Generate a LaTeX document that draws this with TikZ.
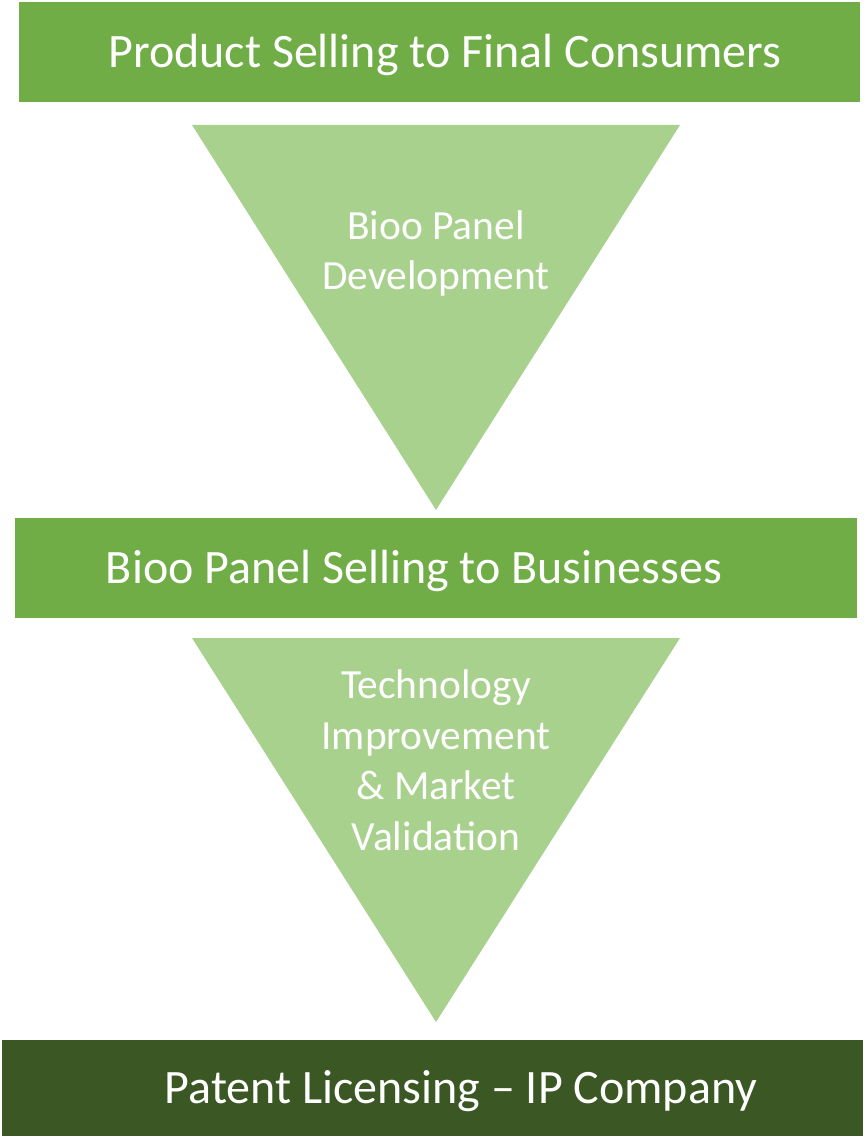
\documentclass[tikz,border=0pt]{standalone}
\usepackage{fontspec}
\setmainfont{Carlito}
\usepackage{tikz}

\begin{document}
\begin{tikzpicture}[x=1pt,y=-1pt]
\definecolor{barGreen}{RGB}{112,173,71}
\definecolor{funnelGreen}{RGB}{169,209,142}
\definecolor{darkGreen}{RGB}{58,87,36}
\tikzset{bartext/.style={text=white,font=\fontsize{48}{50}\selectfont,inner sep=0pt,anchor=base},
  funneltext/.style={text=white,font=\fontsize{41.5}{50.5}\selectfont,inner sep=0pt,align=center,anchor=base}}
\useasboundingbox (0,0) rectangle (865,1139);
% bars
\fill[barGreen] (19,2) rectangle (860,102);
\node[bartext] (top bar) at (445,68) {Product Selling to Final Consumers};
\fill[barGreen] (15,518) rectangle (857,618);
\node[bartext] (mid bar) at (414,583) {Bioo Panel Selling to Businesses};
\fill[darkGreen] (2,1040) rectangle (863,1136);
\node[bartext] (low bar) at (461,1103) {Patent Licensing -- IP Company};
% funnels (node base = last line)
\fill[funnelGreen] (192,125) -- (680,125) -- (436,510) -- cycle;
\node[funneltext] (upper funnel) at (436,290) {Bioo Panel\\Development};
\fill[funnelGreen] (192,638) -- (680,638) -- (436,1022) -- cycle;
\node[funneltext] (lower funnel) at (436,850) {Technology\\Improvement\\\& Market\\Validation};
\end{tikzpicture}
\end{document}
